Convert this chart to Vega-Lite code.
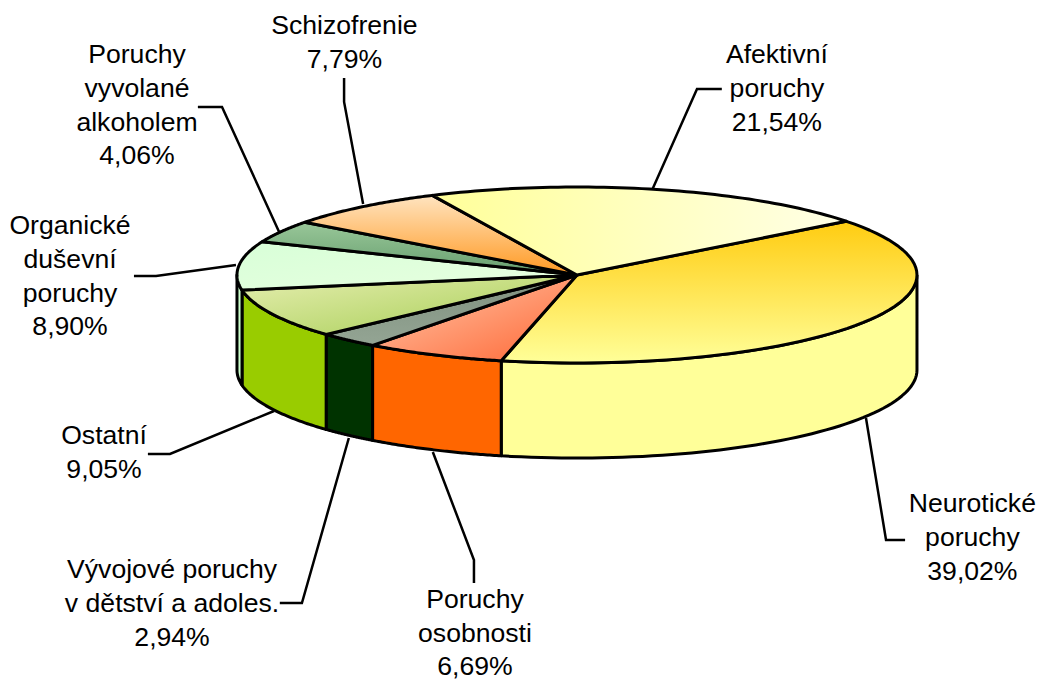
{
"$schema":"https://vega.github.io/schema/vega-lite/v6.json",
"width":1037,"height":680,"padding":0,"autosize":"none","background":"white",
"config":{"view":{"stroke":null}},
"datasets":{
"slices":[
{"name":"Neurotické poruchy","order":1,"share":39.02},
{"name":"Poruchy osobnosti","order":2,"share":6.69},
{"name":"Vývojové poruchy v dětství a adoles.","order":3,"share":2.94},
{"name":"Ostatní","order":4,"share":9.05},
{"name":"Organické duševní poruchy","order":5,"share":8.90},
{"name":"Poruchy vyvolané alkoholem","order":6,"share":4.06},
{"name":"Schizofrenie","order":7,"share":7.79},
{"name":"Afektivní poruchy","order":8,"share":21.54}
],
"labels":[
{"name":"Neurotické poruchy","label":"Neurotické\nporuchy\n39,02%","lx":1.163,"ly":-2.602},
{"name":"Poruchy osobnosti","label":"Poruchy\nosobnosti\n6,69%","lx":-0.3,"ly":-3.69},
{"name":"Vývojové poruchy v dětství a adoles.","label":"Vývojové poruchy\nv dětství a adoles.\n2,94%","lx":-1.191,"ly":-3.352},
{"name":"Ostatní","label":"Ostatní\n9,05%","lx":-1.391,"ly":-1.83},
{"name":"Organické duševní poruchy","label":"Organické\nduševní\nporuchy\n8,90%","lx":-1.491,"ly":0.557},
{"name":"Poruchy vyvolané alkoholem","label":"Poruchy\nvyvolané\nalkoholem\n4,06%","lx":-1.294,"ly":2.5},
{"name":"Schizofrenie","label":"Schizofrenie\n7,79%","lx":-0.684,"ly":2.83},
{"name":"Afektivní poruchy","label":"Afektivní\nporuchy\n21,54%","lx":0.588,"ly":2.5}
],
"leaders":[
{"name":"A","step":1,"lx":0.221,"ly":0.966},{"name":"A","step":2,"lx":0.353,"ly":2.114},{"name":"A","step":3,"lx":0.426,"ly":2.114},
{"name":"N","step":1,"lx":0.85,"ly":-1.625},{"name":"N","step":2,"lx":0.909,"ly":-3.011},{"name":"N","step":3,"lx":0.965,"ly":-3.011},
{"name":"O","step":1,"lx":-0.424,"ly":-2.011},{"name":"O","step":2,"lx":-0.303,"ly":-3.239},{"name":"O","step":3,"lx":-0.303,"ly":-3.5},
{"name":"V","step":1,"lx":-0.671,"ly":-1.852},{"name":"V","step":2,"lx":-0.809,"ly":-3.727},{"name":"V","step":3,"lx":-0.874,"ly":-3.727},
{"name":"S","step":1,"lx":-0.891,"ly":-1.545},{"name":"S","step":2,"lx":-1.197,"ly":-2.034},{"name":"S","step":3,"lx":-1.262,"ly":-2.034},
{"name":"G","step":1,"lx":-1.003,"ly":0.114},{"name":"G","step":2,"lx":-1.238,"ly":-0.011},{"name":"G","step":3,"lx":-1.303,"ly":-0.011},
{"name":"K","step":1,"lx":-0.876,"ly":0.489},{"name":"K","step":2,"lx":-1.044,"ly":1.909},{"name":"K","step":3,"lx":-1.115,"ly":1.909},
{"name":"C","step":1,"lx":-0.629,"ly":0.807},{"name":"C","step":2,"lx":-0.685,"ly":1.966},{"name":"C","step":3,"lx":-0.685,"ly":2.239}
]
},
"layer":[
{
"data":{"name":"leaders"},
"mark":{"type":"line","stroke":"black","strokeWidth":2.5},
"encoding":{
"x":{"field":"lx","type":"quantitative","scale":{"domain":[-1.697,1.353]},"axis":null},
"y":{"field":"ly","type":"quantitative","scale":{"domain":[-4.602,3.125]},"axis":null},
"detail":{"field":"name"},
"order":{"field":"step","type":"ordinal"}
}
},
{
"data":{"name":"slices"},
"transform":[
{"window":[{"op":"sum","field":"share","as":"cum"}],"sort":[{"field":"order"}]},
{"calculate":"52.4+(datum.cum-datum.share)*3.6","as":"a0"},
{"calculate":"52.4+datum.cum*3.6","as":"a1"},
{"calculate":"max(datum.a0,90)","as":"w0"},
{"calculate":"min(datum.a1,270)","as":"w1"},
{"filter":"datum.w1>datum.w0"},
{"calculate":"sequence(0,123)","as":"k"},
{"flatten":["k"]},
{"calculate":"PI/180*(datum.w0+(datum.k<=60?datum.k:(datum.k<=121?121-datum.k:0))/60*(datum.w1-datum.w0))","as":"a"},
{"calculate":"sin(datum.a)","as":"ux"},
{"calculate":"cos(datum.a)-((datum.k>60&&datum.k<=121)?1.08:0)","as":"uy"}
],
"mark":{"type":"line","filled":true,"stroke":"black","strokeWidth":3,"strokeJoin":"round"},
"encoding":{
"x":{"field":"ux","type":"quantitative","scale":{"domain":[-1.697,1.353]},"axis":null},
"y":{"field":"uy","type":"quantitative","scale":{"domain":[-4.602,3.125]},"axis":null},
"order":{"field":"k","type":"quantitative"},
"fill":{"field":"name","type":"nominal","legend":null,"scale":{
"domain":["Neurotické poruchy","Poruchy osobnosti","Vývojové poruchy v dětství a adoles.","Ostatní","Organické duševní poruchy"],
"range":["#FFFF99","#FF6600","#003300","#99CC00","#CCFFCC"]}}
}
},
{
"data":{"name":"slices"},
"transform":[
{"window":[{"op":"sum","field":"share","as":"cum"}],"sort":[{"field":"order"}]},
{"calculate":"52.4+(datum.cum-datum.share)*3.6","as":"a0"},
{"calculate":"52.4+datum.cum*3.6","as":"a1"},
{"calculate":"sequence(0,63)","as":"k"},
{"flatten":["k"]},
{"calculate":"PI/180*(datum.a0+(datum.k-1)/60*(datum.a1-datum.a0))","as":"a"},
{"calculate":"(datum.k==0||datum.k==62)?0:sin(datum.a)","as":"ux"},
{"calculate":"(datum.k==0||datum.k==62)?0:cos(datum.a)","as":"uy"}
],
"encoding":{
"x":{"field":"ux","type":"quantitative","scale":{"domain":[-1.697,1.353]},"axis":null},
"y":{"field":"uy","type":"quantitative","scale":{"domain":[-4.602,3.125]},"axis":null},
"order":{"field":"k","type":"quantitative"}
},
"layer":[
{"transform":[{"filter":"datum.order==1"}],"mark":{"type":"line","filled":true,"stroke":"black","strokeWidth":3,"strokeJoin":"round","fill":{"gradient":"linear","x1":0,"y1":0,"x2":0,"y2":1,"stops":[{"offset":0,"color":"#FFCC11"},{"offset":1,"color":"#FFFF99"}]}}},
{"transform":[{"filter":"datum.order==2"}],"mark":{"type":"line","filled":true,"stroke":"black","strokeWidth":3,"strokeJoin":"round","fill":{"gradient":"linear","x1":0,"y1":0,"x2":1,"y2":1,"stops":[{"offset":0,"color":"#FFCCB0"},{"offset":1,"color":"#FF6633"}]}}},
{"transform":[{"filter":"datum.order==3"}],"mark":{"type":"line","filled":true,"stroke":"black","strokeWidth":3,"strokeJoin":"round","fill":{"gradient":"linear","x1":0,"y1":0,"x2":0,"y2":1,"stops":[{"offset":0,"color":"#7F907F"},{"offset":1,"color":"#94A594"}]}}},
{"transform":[{"filter":"datum.order==4"}],"mark":{"type":"line","filled":true,"stroke":"black","strokeWidth":3,"strokeJoin":"round","fill":{"gradient":"linear","x1":0,"y1":0,"x2":1,"y2":1,"stops":[{"offset":0,"color":"#E6EEB0"},{"offset":1,"color":"#A3CC50"}]}}},
{"transform":[{"filter":"datum.order==5"}],"mark":{"type":"line","filled":true,"stroke":"black","strokeWidth":3,"strokeJoin":"round","fill":{"gradient":"linear","x1":0,"y1":0,"x2":1,"y2":1,"stops":[{"offset":0,"color":"#D8FFD8"},{"offset":1,"color":"#E8FFE0"}]}}},
{"transform":[{"filter":"datum.order==6"}],"mark":{"type":"line","filled":true,"stroke":"black","strokeWidth":3,"strokeJoin":"round","fill":{"gradient":"linear","x1":0,"y1":0,"x2":0,"y2":1,"stops":[{"offset":0,"color":"#99C799"},{"offset":1,"color":"#669E6E"}]}}},
{"transform":[{"filter":"datum.order==7"}],"mark":{"type":"line","filled":true,"stroke":"black","strokeWidth":3,"strokeJoin":"round","fill":{"gradient":"linear","x1":0,"y1":0,"x2":0,"y2":1,"stops":[{"offset":0,"color":"#FFE4C0"},{"offset":1,"color":"#FF9922"}]}}},
{"transform":[{"filter":"datum.order==8"}],"mark":{"type":"line","filled":true,"stroke":"black","strokeWidth":3,"strokeJoin":"round","fill":{"gradient":"linear","x1":0,"y1":0,"x2":1,"y2":0,"stops":[{"offset":0,"color":"#FFFF99"},{"offset":1,"color":"#FFFFE6"}]}}}
]
},
{
"data":{"name":"labels"},
"mark":{"type":"text","font":"Liberation Sans","fontSize":26.6,"lineHeight":33.8,"lineBreak":"\n","align":"center","baseline":"middle","color":"black"},
"encoding":{
"x":{"field":"lx","type":"quantitative","scale":{"domain":[-1.697,1.353]},"axis":null},
"y":{"field":"ly","type":"quantitative","scale":{"domain":[-4.602,3.125]},"axis":null},
"text":{"field":"label"}
}
}
]
}
